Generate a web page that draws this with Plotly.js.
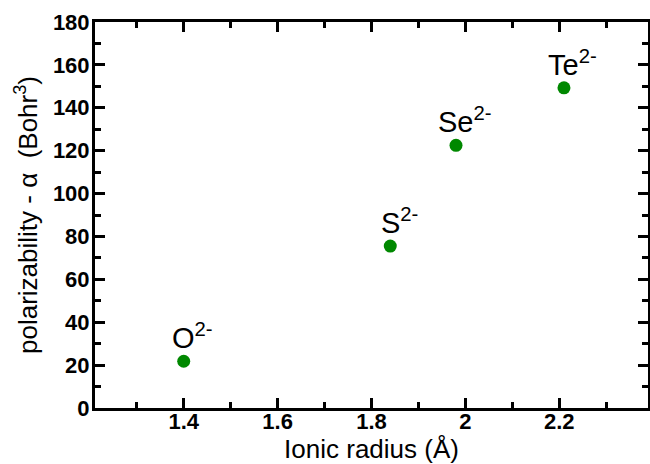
<!DOCTYPE html>
<html><head><meta charset="utf-8">
<script src="https://cdn.plot.ly/plotly-3.0.1.min.js"></script>
<style>html,body{margin:0;padding:0;background:#fff}</style>
</head><body>
<div id="chart" style="width:650px;height:464px"></div>
<script>
const ions = ["O<sup>2-</sup>", "S<sup>2-</sup>", "Se<sup>2-</sup>", "Te<sup>2-</sup>"];
const ionicRadius = [1.40, 1.84, 1.98, 2.21];
const polarizability = [21.8, 75.5, 122.5, 149.3];
const xTicks = [1.4, 1.6, 1.8, 2.0, 2.2];
const xTickText = ["1.4", "1.6", "1.8", "2", "2.2"];
const yTicks = [0, 20, 40, 60, 80, 100, 120, 140, 160, 180];

const FONT = "Liberation Sans, Arial, Helvetica, sans-serif";

const trace = {
  x: ionicRadius, y: polarizability, mode: "markers", type: "scatter",
  marker: {size: 13, color: "rgb(0,136,0)"}, hoverinfo: "skip"
};

const annotations = ions.map((t, i) => ({
  x: ionicRadius[i], y: polarizability[i], xref: "x", yref: "y",
  text: t, showarrow: false, xanchor: "center", yanchor: "bottom",
  xshift: 9, yshift: 5,
  font: {family: FONT, size: 29, color: "#000"}
}));

const axisCommon = {
  showline: true, linewidth: 3, linecolor: "#000", mirror: "ticks",
  ticks: "inside", ticklen: 10, tickwidth: 3, tickcolor: "#000",
  showgrid: false, zeroline: false,
  tickfont: {family: FONT, size: 22, color: "#000", weight: "bold"}
};

const layout = {
  width: 650, height: 464,
  margin: {l: 95, r: 2, t: 22, b: 56},
  paper_bgcolor: "#fff", plot_bgcolor: "#fff",
  showlegend: false,
  xaxis: Object.assign({}, axisCommon, {
    range: [1.211, 2.389], tickmode: "array", tickvals: xTicks, ticktext: xTickText,
    ticklabelstandoff: -8,
    minor: {dtick: 0.1, tick0: 0, ticks: "inside", ticklen: 6, tickwidth: 3, tickcolor: "#000"},
    title: {text: "Ionic radius (Å)", standoff: 10,
      font: {family: FONT, size: 26, color: "#000"}}
  }),
  yaxis: Object.assign({}, axisCommon, {
    range: [0, 180], tickmode: "array", tickvals: yTicks,
    ticklabelstandoff: -2,
    minor: {dtick: 10, tick0: 0, ticks: "inside", ticklen: 6, tickwidth: 3, tickcolor: "#000"},
    title: {text: "polarizability - α  (Bohr<sup>3</sup>)", standoff: 8,
      font: {family: FONT, size: 26, color: "#000"}}
  }),
  annotations: annotations
};

Plotly.newPlot("chart", [trace], layout, {displayModeBar: false, staticPlot: true});
</script>
</body></html>
